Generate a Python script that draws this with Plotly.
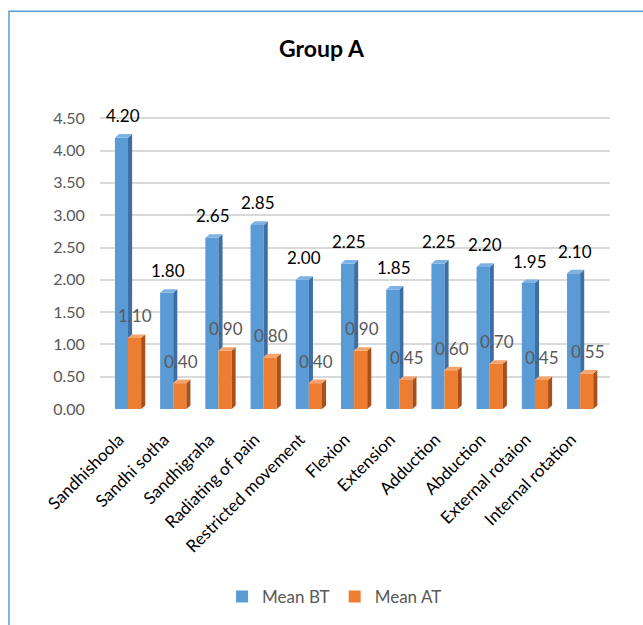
import plotly.graph_objects as go

categories = ["Sandhishoola", "Sandhi sotha", "Sandhigraha", "Radiating of pain",
              "Restricted movement", "Flexion", "Extension", "Adduction",
              "Abduction", "External rotaion", "Internal rotation"]
mean_bt = [4.20, 1.80, 2.65, 2.85, 2.00, 2.25, 1.85, 2.25, 2.20, 1.95, 2.10]
mean_at = [1.10, 0.40, 0.90, 0.80, 0.40, 0.90, 0.45, 0.60, 0.70, 0.45, 0.55]
y_ticks = [0.0, 0.5, 1.0, 1.5, 2.0, 2.5, 3.0, 3.5, 4.0, 4.5]

FONT = "Lato"
BW = 0.29      # bar width (x units)
DX = 0.09      # depth offset x
DY = 0.055     # depth offset y
BLUE, BLUE_SIDE, BLUE_TOP = "#5B9BD5", "#3B6FA6", "#7FB2E4"
ORG, ORG_SIDE, ORG_TOP = "#ED7D31", "#A9501A", "#F5A36A"

idx = list(range(len(categories)))
fig = go.Figure()

fig.add_trace(go.Bar(x=idx, y=mean_bt, name="Mean BT", width=BW, offset=-BW,
                     marker=dict(color=BLUE, line=dict(width=0))))
fig.add_trace(go.Bar(x=idx, y=mean_at, name="Mean AT", width=BW, offset=0,
                     marker=dict(color=ORG, line=dict(width=0))))


def poly_trace(polys, color):
    xs, ys = [], []
    for p in polys:
        for (a, b) in p:
            xs.append(a)
            ys.append(b)
        xs.append(p[0][0]); ys.append(p[0][1])
        xs.append(None); ys.append(None)
    return go.Scatter(x=xs, y=ys, mode="lines", fill="toself", fillcolor=color,
                      line=dict(width=0, color=color), showlegend=False,
                      hoverinfo="skip")


# blue top faces and visible side faces (above the orange bar)
blue_tops, blue_sides = [], []
for i, (b, a) in zip(idx, zip(mean_bt, mean_at)):
    x0, x1 = i - BW, i
    blue_tops.append([(x0, b), (x0 + DX, b + DY), (x1 + DX, b + DY), (x1, b)])
    blue_sides.append([(x1, a), (x1 + DX, a + DY), (x1 + DX, b + DY), (x1, b)])
fig.add_trace(poly_trace(blue_sides, BLUE_SIDE))
fig.add_trace(poly_trace(blue_tops, BLUE_TOP))

org_tops, org_sides = [], []
for i, a in zip(idx, mean_at):
    x0, x1 = i, i + BW
    org_tops.append([(x0, a), (x0 + DX, a + DY), (x1 + DX, a + DY), (x1, a)])
    org_sides.append([(x1, 0), (x1 + DX, DY), (x1 + DX, a + DY), (x1, a)])
fig.add_trace(poly_trace(org_sides, ORG_SIDE))
fig.add_trace(poly_trace(org_tops, ORG_TOP))

annotations = []
for i, b, a in zip(idx, mean_bt, mean_at):
    annotations.append(dict(x=i - BW / 2 + 0.03, y=b, text=f"{b:.2f}", showarrow=False,
                            yshift=22, font=dict(family=FONT, size=17, color="#000000")))
    annotations.append(dict(x=i + BW / 2 + 0.02, y=a, text=f"{a:.2f}", showarrow=False,
                            yshift=22, font=dict(family=FONT, size=17, color="#595959")))

# chart border (pixel positions converted to paper coordinates)
PL, PW, PB, PH = 100, 510, 410, 293
fig.update_layout(
    width=643, height=625,
    margin=dict(l=100, r=33, t=117, b=215),
    paper_bgcolor="white", plot_bgcolor="white",
    barmode="overlay",
    title=dict(text="<b>Group A</b>", x=0.5, xanchor="center", y=0.922, yanchor="middle",
               font=dict(family=FONT, size=23, color="#000000")),
    xaxis=dict(range=[-0.62, 10.66], tickvals=[i - 0.2 for i in idx], ticktext=categories,
               tickangle=-45, showgrid=False, zeroline=False, showline=False,
               ticks="outside", ticklen=13, tickcolor="rgba(0,0,0,0)",
               tickfont=dict(family=FONT, size=17, color="#000000")),
    yaxis=dict(range=[0, 4.52], tickvals=y_ticks, ticktext=[f"{v:.2f}" for v in y_ticks],
               showgrid=True, gridcolor="#D9D9D9", gridwidth=1.5, zeroline=False,
               showline=False, ticks="outside", ticklen=11, tickcolor="rgba(0,0,0,0)",
               tickfont=dict(family=FONT, size=16, color="#595959")),
    legend=dict(orientation="h", x=0.46, xanchor="center", y=-0.638, yanchor="middle",
                font=dict(family=FONT, size=17, color="#595959"), itemwidth=30),
    annotations=annotations,
    shapes=[dict(type="rect", xref="paper", yref="paper",
                 x0=(9 - PL) / PW, x1=(660 - PL) / PW,
                 y0=(PB - 660) / PH, y1=(PB - 11) / PH,
                 line=dict(color="#5B9BD5", width=1.5), fillcolor="rgba(0,0,0,0)")],
)

fig.write_html("out.html")
